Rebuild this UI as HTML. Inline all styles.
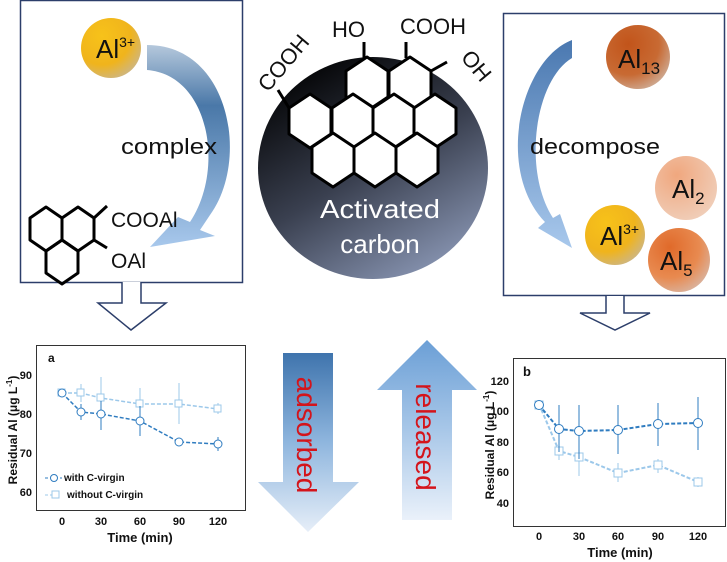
<!DOCTYPE html>
<html><head><meta charset="utf-8"><style>
html,body{margin:0;padding:0;background:#fff;}
svg{display:block;font-family:"Liberation Sans",sans-serif;}
</style></head><body>
<svg width="727" height="562" viewBox="0 0 727 562" xmlns="http://www.w3.org/2000/svg">
<defs>
<radialGradient id="yel" cx="0.35" cy="0.3" r="0.8"><stop offset="0" stop-color="#f7c21a"/><stop offset="0.6" stop-color="#f0b41c"/><stop offset="1" stop-color="#c9b690"/></radialGradient>
<radialGradient id="brn" cx="0.35" cy="0.3" r="0.8"><stop offset="0" stop-color="#c2541a"/><stop offset="0.6" stop-color="#c86a33"/><stop offset="1" stop-color="#cfb3a0"/></radialGradient>
<radialGradient id="pch" cx="0.35" cy="0.3" r="0.8"><stop offset="0" stop-color="#f0a77e"/><stop offset="1" stop-color="#f0d0bc"/></radialGradient>
<radialGradient id="org" cx="0.35" cy="0.3" r="0.8"><stop offset="0" stop-color="#e06a2a"/><stop offset="0.6" stop-color="#e88a50"/><stop offset="1" stop-color="#d8b8a8"/></radialGradient>
<linearGradient id="ac" x1="0.2" y1="0" x2="0.8" y2="1"><stop offset="0" stop-color="#000"/><stop offset="0.5" stop-color="#3a4050"/><stop offset="1" stop-color="#8d9ab8"/></linearGradient>
<linearGradient id="dn" x1="0" y1="0" x2="0" y2="1"><stop offset="0" stop-color="#3f74ad"/><stop offset="0.5" stop-color="#8fb6de"/><stop offset="1" stop-color="#e6eef8"/></linearGradient>
<linearGradient id="up" x1="0" y1="0" x2="0" y2="1"><stop offset="0" stop-color="#6b9fd6"/><stop offset="0.5" stop-color="#a8c7e8"/><stop offset="1" stop-color="#eaf1fa"/></linearGradient>
<linearGradient id="cl" x1="0" y1="0" x2="0" y2="1"><stop offset="0" stop-color="#b5c8dc"/><stop offset="0.3" stop-color="#4a78a8"/><stop offset="1" stop-color="#a8c8ec"/></linearGradient>
<linearGradient id="cr" x1="0" y1="0" x2="0" y2="1"><stop offset="0" stop-color="#4a78b0"/><stop offset="1" stop-color="#a8c8ec"/></linearGradient>
<path id="hx" d="M0 -27 L21 -13 L21 13 L0 27 L-21 13 L-21 -13 Z"/>
<path id="hs" d="M0 -22 L16 -11 L16 11 L0 22 L-16 11 L-16 -11 Z"/>
</defs>

<!-- left box -->
<rect x="20.5" y="0.5" width="222" height="282" fill="none" stroke="#2c3e6a" stroke-width="1.5"/>
<path d="M122 282 V303 H98 L131 330 L166 303 H141 V282" fill="#fff" stroke="#2c3e6a" stroke-width="1.5"/>
<path d="M147 45 C230 45 250 160 210 215 L200 230 L215 236 L150 247 L178 217 L190 222 C225 170 210 75 147 70 Z" fill="url(#cl)"/>
<ellipse cx="111" cy="48" rx="30" ry="30" fill="url(#yel)"/>
<text x="96" y="58" font-size="26" fill="#111">Al<tspan font-size="14" dy="-11">3+</tspan></text>
<text x="121" y="154" font-size="22" fill="#111" textLength="96" lengthAdjust="spacingAndGlyphs">complex</text>
<g fill="none" stroke="#000" stroke-width="3" stroke-linejoin="round">
<use href="#hs" x="46" y="229"/><use href="#hs" x="78" y="229"/><use href="#hs" x="62" y="262"/>
<path d="M94 218 L107 206 M94 240 L107 248"/>
</g>
<text x="111" y="227" font-size="21" fill="#111">COOAl</text>
<text x="111" y="268" font-size="21" fill="#111">OAl</text>

<!-- central circle -->
<ellipse cx="373" cy="168" rx="115" ry="111" fill="url(#ac)"/>
<g fill="#fff" stroke="#000" stroke-width="3" stroke-linejoin="round">
<use href="#hx" x="367" y="84"/><use href="#hx" x="410" y="84"/>
<use href="#hx" x="310" y="121"/><use href="#hx" x="353" y="121"/><use href="#hx" x="394" y="121"/><use href="#hx" x="435" y="121"/>
<use href="#hx" x="333" y="160"/><use href="#hx" x="375" y="160"/><use href="#hx" x="417" y="160"/>
</g>
<g stroke="#000" stroke-width="3"><line x1="289" y1="108" x2="278" y2="90"/><line x1="364" y1="58" x2="364" y2="42"/><line x1="406" y1="58" x2="406" y2="42"/><line x1="431" y1="71" x2="447" y2="62"/></g>
<text x="0" y="0" font-size="22" fill="#111" transform="translate(268,93) rotate(-50)">COOH</text>
<text x="332" y="37" font-size="22" fill="#111">HO</text>
<text x="400" y="34" font-size="22" fill="#111">COOH</text>
<text x="0" y="0" font-size="22" fill="#111" transform="translate(460,58) rotate(50)">OH</text>
<text x="380" y="218" font-size="26" fill="#fff" text-anchor="middle" textLength="120" lengthAdjust="spacingAndGlyphs">Activated</text>
<text x="380" y="253" font-size="26" fill="#fff" text-anchor="middle">carbon</text>

<!-- right box -->
<rect x="503.5" y="13.5" width="221" height="282" fill="none" stroke="#2c3e6a" stroke-width="1.5"/>
<path d="M606 296 V313 H580 L615 330 L650 313 H624 V296" fill="#fff" stroke="#2c3e6a" stroke-width="1.5"/>
<path d="M572 40 C520 60 495 170 545 222 L538 228 L572 248 L560 214 L553 218 C522 170 535 80 572 58 Z" fill="url(#cr)"/>
<ellipse cx="638" cy="57" rx="32" ry="32" fill="url(#brn)"/>
<text x="618" y="68" font-size="26" fill="#111">Al<tspan font-size="17" dy="6">13</tspan></text>
<text x="530" y="154" font-size="22" fill="#111" textLength="130" lengthAdjust="spacingAndGlyphs">decompose</text>
<ellipse cx="686" cy="188" rx="31" ry="32" fill="url(#pch)"/>
<text x="672" y="198" font-size="26" fill="#111">Al<tspan font-size="17" dy="6">2</tspan></text>
<ellipse cx="615" cy="235" rx="30" ry="30" fill="url(#yel)"/>
<text x="600" y="245" font-size="26" fill="#111">Al<tspan font-size="14" dy="-11">3+</tspan></text>
<ellipse cx="679" cy="260" rx="31" ry="32" fill="url(#org)"/>
<text x="660" y="270" font-size="26" fill="#111">Al<tspan font-size="17" dy="6">5</tspan></text>

<!-- middle arrows -->
<path d="M283 353 H333 V482 H359 L308 532 L258 482 H283 Z" fill="url(#dn)"/>
<text transform="translate(297,435) rotate(90)" font-size="28" fill="#d4141b" text-anchor="middle">adsorbed</text>
<path d="M402 520 V390 H377 L427 340 L477 390 H452 V520 Z" fill="url(#up)"/>
<text transform="translate(416,437) rotate(90)" font-size="28" fill="#d4141b" text-anchor="middle">released</text>

<!-- chart a -->
<g font-weight="bold" fill="#111">
<rect x="36.5" y="345.5" width="209" height="165" fill="none" stroke="#333" stroke-width="1"/>
<text x="48" y="362" font-size="12">a</text>
<g font-size="11" text-anchor="end"><text x="32" y="379">90</text><text x="32" y="418">80</text><text x="32" y="457">70</text><text x="32" y="496">60</text></g>
<g font-size="11" text-anchor="middle"><text x="62" y="525">0</text><text x="101" y="525">30</text><text x="140" y="525">60</text><text x="179" y="525">90</text><text x="218" y="525">120</text></g>
<text x="140" y="542" font-size="13" text-anchor="middle">Time (min)</text>
<text transform="translate(17,430) rotate(-90)" font-size="12" text-anchor="middle">Residual Al (μg L<tspan font-size="8" dy="-5">-1</tspan><tspan dy="5">)</tspan></text>
<g font-size="10"><text x="64" y="481">with C-virgin</text><text x="67" y="498">without C-virgin</text></g>
</g>
<g fill="none" stroke-dasharray="4,2" stroke-width="1.5">
<polyline points="62,393 81,393 101,398 140,404 179,404 218,409" stroke="#9cc8ea"/>
<polyline points="62,393 81,412 101,414 140,421 179,442 218,444" stroke="#2f7cc0"/>
</g>
<g stroke="#9cc8ea" stroke-width="1" fill="#fff">
<line x1="81" y1="384" x2="81" y2="402"/><line x1="101" y1="377" x2="101" y2="404"/><line x1="140" y1="388" x2="140" y2="421"/><line x1="179" y1="383" x2="179" y2="424"/><line x1="218" y1="403" x2="218" y2="414"/>
<rect x="58" y="389" width="7" height="7"/><rect x="77" y="389" width="7" height="7"/><rect x="97" y="394" width="7" height="7"/><rect x="136" y="400" width="7" height="7"/><rect x="175" y="400" width="7" height="7"/><rect x="214" y="405" width="7" height="7"/>
<polyline points="45,495 58,495" stroke-dasharray="3,2"/><rect x="52" y="491" width="7" height="7"/>
</g>
<g stroke="#2f7cc0" stroke-width="1" fill="#fff">
<line x1="81" y1="404" x2="81" y2="420"/><line x1="101" y1="401" x2="101" y2="430"/><line x1="140" y1="406" x2="140" y2="436"/><line x1="218" y1="437" x2="218" y2="451"/>
<circle cx="62" cy="393" r="4"/><circle cx="81" cy="412" r="4"/><circle cx="101" cy="414" r="4"/><circle cx="140" cy="421" r="4"/><circle cx="179" cy="442" r="4"/><circle cx="218" cy="444" r="4"/>
<line x1="45" y1="478" x2="62" y2="478" stroke-dasharray="3,2"/><circle cx="54" cy="478" r="3.5"/>
</g>

<!-- chart b -->
<g font-weight="bold" fill="#111">
<rect x="513.5" y="358.5" width="212" height="168" fill="none" stroke="#333" stroke-width="1"/>
<text x="523" y="376" font-size="13">b</text>
<g font-size="11" text-anchor="end"><text x="509" y="385">120</text><text x="509" y="415">100</text><text x="509" y="446">80</text><text x="509" y="476">60</text><text x="509" y="507">40</text></g>
<g font-size="11" text-anchor="middle"><text x="539" y="540">0</text><text x="579" y="540">30</text><text x="618" y="540">60</text><text x="658" y="540">90</text><text x="698" y="540">120</text></g>
<text x="620" y="557" font-size="13" text-anchor="middle">Time (min)</text>
<text transform="translate(494,445) rotate(-90)" font-size="12" text-anchor="middle">Residual Al (μg L<tspan font-size="8" dy="-5">-1</tspan><tspan dy="5">)</tspan></text>
</g>
<g fill="none" stroke-dasharray="4,2" stroke-width="2">
<polyline points="539,404 559,451 579,457 618,473 658,465 698,482" stroke="#9cc8ea"/>
<polyline points="539,405 559,429 579,431 618,430 658,424 698,423" stroke="#2f7cc0"/>
</g>
<g stroke="#9cc8ea" stroke-width="1" fill="#fff">
<line x1="559" y1="445" x2="559" y2="460"/><line x1="579" y1="442" x2="579" y2="476"/><line x1="618" y1="463" x2="618" y2="482"/><line x1="658" y1="459" x2="658" y2="473"/><line x1="698" y1="477" x2="698" y2="487"/>
<rect x="535" y="401" width="8" height="8"/><rect x="555" y="447" width="8" height="8"/><rect x="575" y="453" width="8" height="8"/><rect x="614" y="469" width="8" height="8"/><rect x="654" y="461" width="8" height="8"/><rect x="694" y="478" width="8" height="8"/>
</g>
<g stroke="#2f7cc0" stroke-width="1" fill="#fff">
<line x1="559" y1="405" x2="559" y2="452"/><line x1="579" y1="405" x2="579" y2="459"/><line x1="618" y1="405" x2="618" y2="454"/><line x1="658" y1="403" x2="658" y2="446"/><line x1="698" y1="397" x2="698" y2="450"/>
<circle cx="539" cy="405" r="4.5"/><circle cx="559" cy="429" r="4.5"/><circle cx="579" cy="431" r="4.5"/><circle cx="618" cy="430" r="4.5"/><circle cx="658" cy="424" r="4.5"/><circle cx="698" cy="423" r="4.5"/>
</g>
</svg>
</body></html>
